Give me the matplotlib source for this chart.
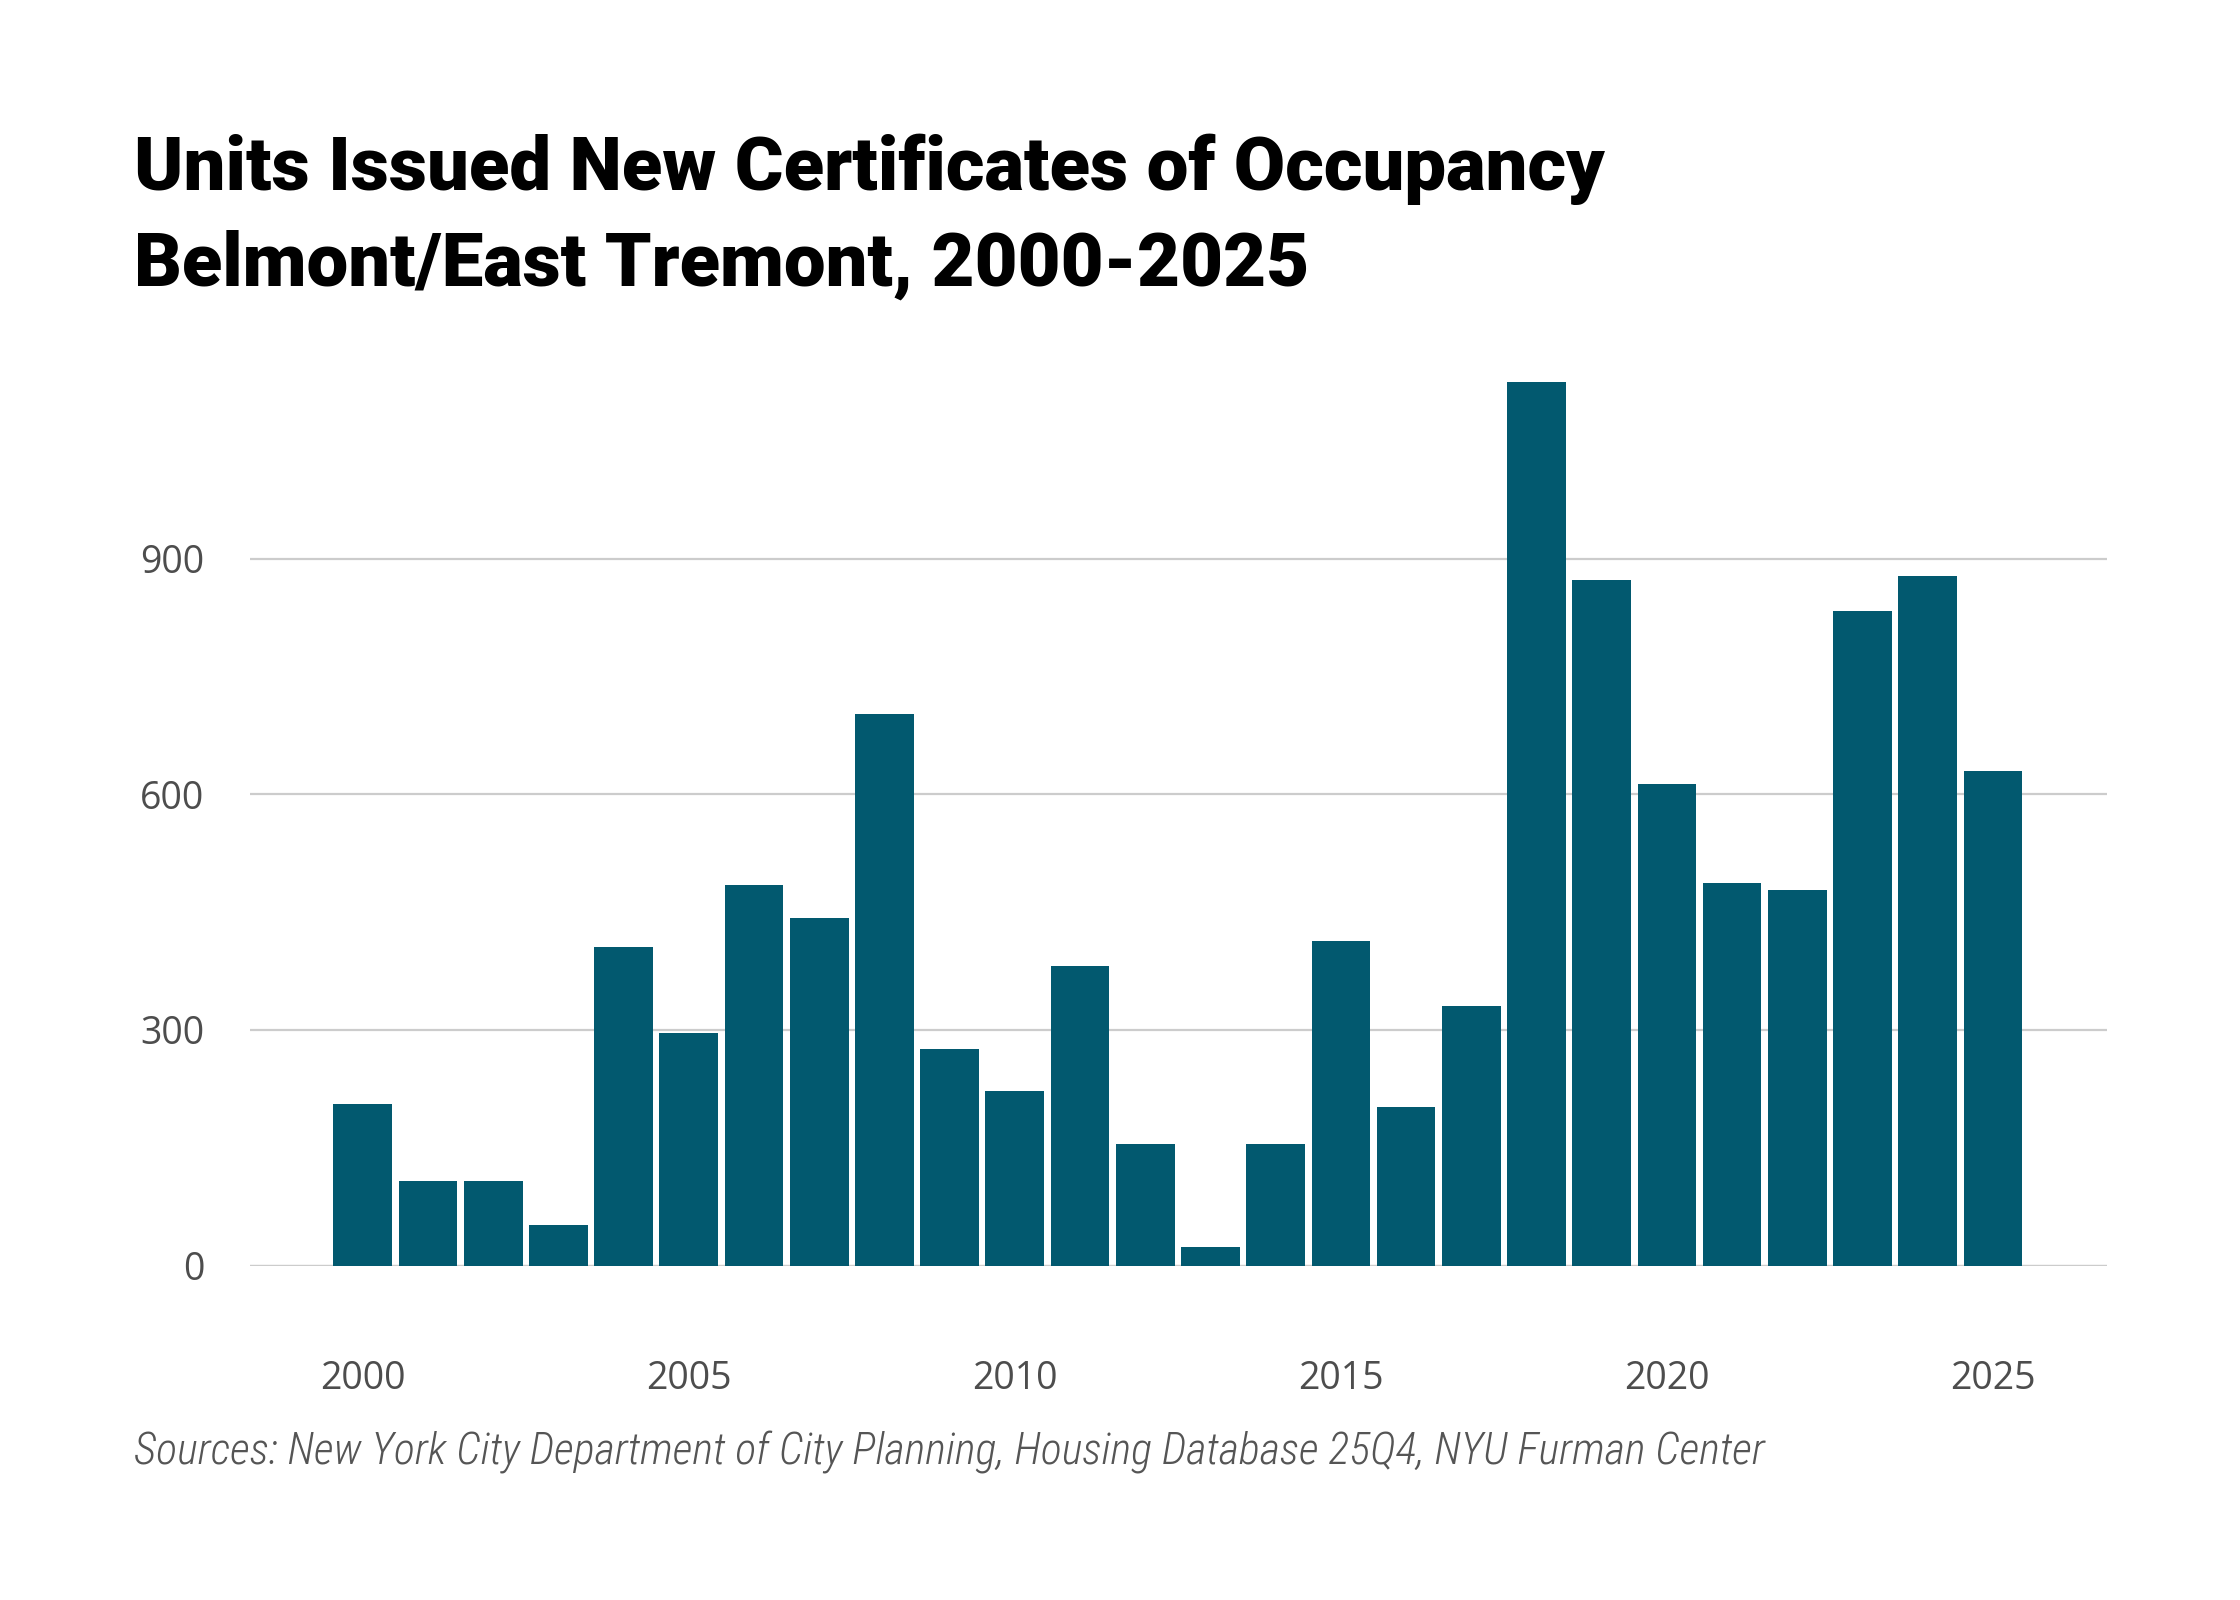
import matplotlib
matplotlib.use("Agg")
import matplotlib.pyplot as plt
from matplotlib import font_manager

# data
years = list(range(2000, 2026))
units = [206, 108, 108, 52, 406, 296, 485, 442, 702, 276, 222, 382, 155,
         24, 155, 413, 202, 331, 1125, 873, 613, 487, 478, 833, 878, 629]

y_ticks = [0, 300, 600, 900]
x_ticks = [2000, 2005, 2010, 2015, 2020, 2025]

title_lines = ["Units Issued New Certificates of Occupancy",
               "Belmont/East Tremont, 2000-2025"]
source = "Sources: New York City Department of City Planning, Housing Database 25Q4, NYU Furman Center"

bar_color = "#02596f"
grid_color = "#cccccc"
tick_color = "#4d4d4d"

names = {f.name for f in font_manager.fontManager.ttflist}
narrow = "Roboto"
for cand in ["Roboto Condensed", "Liberation Sans Narrow"]:
    if cand in names:
        narrow = cand
        break
plt.rcParams["font.family"] = ["Open Sans", "DejaVu Sans"]

W, H = 2240, 1600
fig = plt.figure(figsize=(W / 100, H / 100), dpi=100)
ax = fig.add_axes([250 / W, 1 - 1265.7 / H, (2107 - 250) / W, (1265.7 - 322.8) / H])

ax.bar(years, units, width=0.9, color=bar_color, zorder=2)
ax.set_xlim(1998.27, 2026.75)
ax.set_ylim(0, 1200)

ax.set_yticks(y_ticks)
ax.set_xticks(x_ticks)
ax.grid(axis="y", color=grid_color, linewidth=1.6, zorder=0)
ax.axhline(0, color=grid_color, linewidth=1.6, zorder=1)
for s in ax.spines.values():
    s.set_visible(False)
ax.tick_params(axis="both", length=0, labelsize=27, labelcolor=tick_color)
ax.tick_params(axis="x", pad=68)
ax.tick_params(axis="y", pad=33)


def fit(txt, target_w):
    # scale font so the text spans the same width as in the reference
    r = fig.canvas.get_renderer()
    w = txt.get_window_extent(r).width
    txt.set_fontsize(txt.get_fontsize() * target_w / w)


t1 = fig.text(134.3 / W, 1 - 190 / H, title_lines[0], fontsize=50,
              fontweight="heavy", family="Roboto", color="black", va="baseline")
t2 = fig.text(134.3 / W, 1 - 285.7 / H, title_lines[1], fontsize=50,
              fontweight="heavy", family="Roboto", color="black", va="baseline")
src = fig.text(134.3 / W, 1 - 1464 / H, source, fontsize=26, style="italic",
               fontweight="light", family=narrow, color="#555555", va="baseline")
fit(t1, 1473)
fit(t2, 1177)
fit(src, 1627)

fig.savefig("out.png", dpi=100, facecolor="white")
